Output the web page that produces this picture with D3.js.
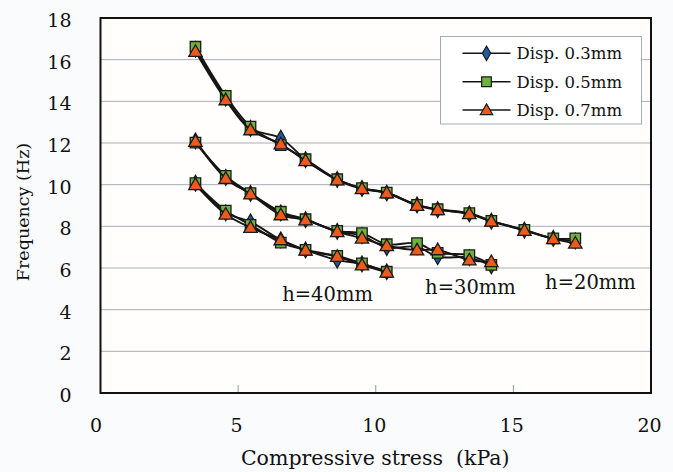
<!DOCTYPE html>
<html>
<head>
<meta charset="utf-8">
<script src="https://cdn.jsdelivr.net/npm/d3@7"></script>
<style>
  html, body { margin: 0; padding: 0; background: #fafbfd; }
  svg { display: block; }
  text { font-family: "DejaVu Serif", "Liberation Serif", serif; fill: #111; }
</style>
</head>
<body>
<svg id="chart" width="673" height="472"></svg>
<script>
// Compressive stress (kPa) at each loading step
const stress = [3.45, 4.55, 5.45, 6.55, 7.45, 8.6, 9.5, 10.4, 11.5, 12.25, 13.4, 14.2, 15.4, 16.45, 17.25];

// Frequency (Hz) for specimen height h = 20 mm
const h20_d03 = [16.5, 14.15, 12.7, 12.23, 11.2, 10.25, 9.82, 9.6, 9.03, 8.8, 8.6, 8.25, 7.82, 7.42, 7.3];
const h20_d05 = [16.62, 14.26, 12.79, 11.9, 11.22, 10.26, 9.83, 9.62, 9.03, 8.82, 8.63, 8.26, 7.83, 7.42, 7.42];
const h20_d07 = [16.39, 14.07, 12.63, 11.95, 11.15, 10.22, 9.8, 9.6, 9.0, 8.8, 8.6, 8.24, 7.8, 7.4, 7.19];

// Frequency (Hz) for specimen height h = 30 mm
const h30_d03 = [12.1, 10.35, 9.58, 8.65, 8.32, 7.76, 7.55, 6.98, 7.02, 6.54, 6.5, 6.1];
const h30_d05 = [12.02, 10.42, 9.59, 8.7, 8.34, 7.78, 7.67, 7.14, 7.19, 6.73, 6.62, 6.15];
const h30_d07 = [12.07, 10.3, 9.55, 8.55, 8.3, 7.74, 7.43, 7.07, 6.86, 6.87, 6.38, 6.3];

// Frequency (Hz) for specimen height h = 40 mm
const h40_d03 = [10.07, 8.65, 8.22, 7.35, 6.87, 6.38, 6.2, 5.82];
const h40_d05 = [10.07, 8.75, 8.07, 7.22, 6.87, 6.58, 6.22, 5.82];
const h40_d07 = [10.0, 8.58, 7.94, 7.35, 6.85, 6.55, 6.14, 5.8];

const seriesNames = ["Disp. 0.3mm", "Disp. 0.5mm", "Disp. 0.7mm"];
const xTicks = [0, 5, 10, 15, 20];
const yTicks = [0, 2, 4, 6, 8, 10, 12, 14, 16, 18];
const heightLabels = ["h=20mm", "h=30mm", "h=40mm"];

// One group of curves per displacement, each holding the three specimen heights
const groups = [
  [h20_d03, h30_d03, h40_d03],
  [h20_d05, h30_d05, h40_d05],
  [h20_d07, h30_d07, h40_d07]
];

const svg = d3.select("#chart");
const plotL = 100.5, plotR = 651, plotT = 18, plotB = 393;

const x = d3.scaleLinear().domain([0, 20]).range([plotL, plotR]);
const y = d3.scaleLinear().domain([0, 18]).range([plotB, plotT]);

// plot background
svg.append("rect")
  .attr("x", plotL).attr("y", plotT)
  .attr("width", plotR - plotL).attr("height", plotB - plotT)
  .attr("fill", "#fffefd");

// horizontal gridlines
svg.append("g").selectAll("line")
  .data(yTicks.filter(v => v > 0 && v < 18))
  .join("line")
  .attr("x1", plotL).attr("x2", plotR)
  .attr("y1", d => y(d)).attr("y2", d => y(d))
  .attr("stroke", "#a9adb4").attr("stroke-width", 1);

// x axis: inward ticks, labels below
const xAxis = d3.axisBottom(x).tickValues(xTicks).tickSize(0).tickPadding(0);
const gx = svg.append("g").attr("transform", `translate(0,${plotB})`).call(xAxis);
gx.select(".domain").remove();
gx.selectAll("text")
  .attr("dy", 0).attr("y", 39).attr("dx", (d, i) => i === 0 ? -5 : -2)
  .style("font-size", "19px");
svg.append("g").selectAll("line")
  .data(xTicks.filter(v => v > 0 && v < 20))
  .join("line")
  .attr("x1", d => x(d)).attr("x2", d => x(d))
  .attr("y1", plotB).attr("y2", plotB - 8)
  .attr("stroke", "#8e9aa8").attr("stroke-width", 1);

// y axis labels
const yAxis = d3.axisLeft(y).tickValues(yTicks).tickSize(0).tickPadding(0);
const gy = svg.append("g").attr("transform", `translate(${plotL},0)`).call(yAxis);
gy.select(".domain").remove();
gy.selectAll("text")
  .attr("x", -29).attr("dy", "0.45em")
  .style("font-size", "19px");

// frame
svg.append("rect")
  .attr("x", plotL).attr("y", plotT)
  .attr("width", plotR - plotL).attr("height", plotB - plotT)
  .attr("fill", "none").attr("stroke", "#111").attr("stroke-width", 2);

// axis titles
svg.append("text")
  .attr("x", (plotL + plotR) / 2 - 0.5).attr("y", 465)
  .attr("text-anchor", "middle")
  .style("font-size", "20.5px")
  .style("white-space", "pre")
  .text("Compressive stress  (kPa)");

svg.append("text")
  .attr("transform", "translate(29,212) rotate(-90)")
  .attr("text-anchor", "middle")
  .style("font-size", "17.5px")
  .text("Frequency (Hz)");

// markers
const markerFill = ["#1f5aa6", "#6cb33f", "#ee5a1c"];
const markerShape = [d3.symbolDiamond, d3.symbolSquare, d3.symbolTriangle];
const markerSize = [70, 110, 78];

const line = d3.line()
  .x(d => x(d[0])).y(d => y(d[1]))
  .curve(d3.curveCatmullRom.alpha(0.5));

const plot = svg.append("g");
groups.forEach((sets, si) => {
  const g = plot.append("g");
  sets.forEach(vals => {
    const pts = vals.map((v, i) => [stress[i], v]);
    g.append("path")
      .attr("d", line(pts))
      .attr("fill", "none")
      .attr("stroke", "#151515")
      .attr("stroke-width", 1.9);
  });
  sets.forEach(vals => {
    const pts = vals.map((v, i) => [stress[i], v]);
    g.selectAll(null).data(pts).join("path")
      .attr("transform", d => `translate(${x(d[0])},${y(d[1]) + (si === 2 ? 1 : 0)})`)
      .attr("d", d3.symbol().type(markerShape[si]).size(markerSize[si]))
      .attr("fill", markerFill[si])
      .attr("stroke", "#1a1a1a")
      .attr("stroke-width", 1.3);
  });
});

// height annotations
const annotPos = [[17.8, 5.33], [13.44, 5.09], [8.25, 4.75]];
svg.append("g").selectAll("text")
  .data(heightLabels)
  .join("text")
  .attr("x", (d, i) => x(annotPos[i][0]))
  .attr("y", (d, i) => y(annotPos[i][1]))
  .attr("dy", "0.35em")
  .attr("text-anchor", "middle")
  .style("font-size", "19.5px")
  .text(d => d);

// legend
const lg = svg.append("g");
lg.append("rect")
  .attr("x", 440.5).attr("y", 36.5)
  .attr("width", 201).attr("height", 87.5)
  .attr("fill", "#ffffff")
  .attr("stroke", "#a3adb8").attr("stroke-width", 1);
const legendRows = [53.3, 81.7, 110];
seriesNames.forEach((name, i) => {
  const ry = legendRows[i];
  lg.append("line")
    .attr("x1", 462.5).attr("x2", 510.5)
    .attr("y1", ry).attr("y2", ry)
    .attr("stroke", "#151515").attr("stroke-width", 1.6);
  lg.append("path")
    .attr("transform", `translate(486.5,${ry + (i === 2 ? 1 : 0)})`)
    .attr("d", d3.symbol().type(markerShape[i]).size(markerSize[i] * 0.85))
    .attr("fill", markerFill[i])
    .attr("stroke", "#1a1a1a").attr("stroke-width", 1.2);
  lg.append("text")
    .attr("x", 516.5).attr("y", ry).attr("dy", "0.36em")
    .style("font-size", "16.5px")
    .text(name);
});
</script>
</body>
</html>
